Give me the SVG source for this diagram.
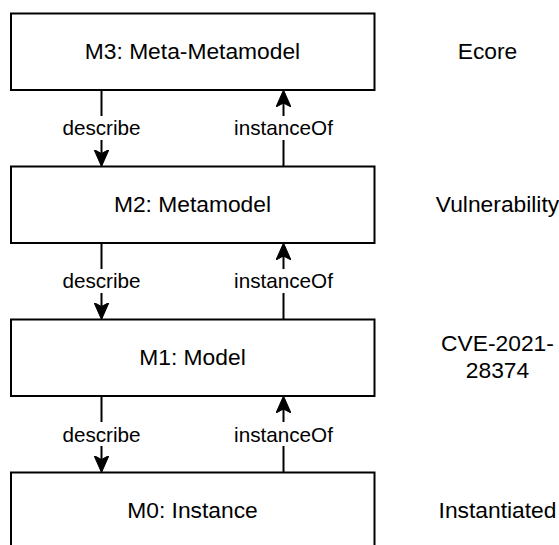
<svg xmlns="http://www.w3.org/2000/svg" width="559" height="545" viewBox="0 0 559 545">
  <style>
    .box { fill: #ffffff; stroke: #000000; stroke-width: 2; }
    .conn { fill: none; stroke: #000000; stroke-width: 2; }
    .lbg { fill: #ffffff; stroke: none; }
    .t { font-family: "Liberation Sans", Arial, sans-serif; font-size: 22.8px; fill: #000000; text-anchor: middle; }
    .lt { font-family: "Liberation Sans", Arial, sans-serif; font-size: 20.7px; fill: #000000; text-anchor: middle; }
  </style>
  <defs>
    <marker id="arrow" markerUnits="userSpaceOnUse" viewBox="0 0 17 15" refX="4" refY="7.5" markerWidth="17" markerHeight="15" orient="auto">
      <path d="M17,7.5 L0,0 L4,7.5 L0,15 Z" fill="#000000" stroke="#000000" stroke-width="1" stroke-linejoin="miter"/>
    </marker>
  </defs>
  <rect x="0" y="0" width="559" height="545" fill="#ffffff"/>

  <g id="m3">
    <rect class="box" x="11" y="13.5" width="363.5" height="76.5"/>
    <text class="t" x="192.5" y="59.3">M3: Meta-Metamodel</text>
  </g>
  <g id="m2">
    <rect class="box" x="11" y="166.5" width="363.5" height="76.5"/>
    <text class="t" x="192.5" y="212.3">M2: Metamodel</text>
  </g>
  <g id="m1">
    <rect class="box" x="11" y="319.5" width="363.5" height="76.5"/>
    <text class="t" x="192.5" y="365.3">M1: Model</text>
  </g>
  <g id="m0">
    <rect class="box" x="11" y="472.5" width="363.5" height="76.5"/>
    <text class="t" x="192.5" y="518.3">M0: Instance</text>
  </g>

  <g id="ecore"><text class="t" x="487.5" y="59.3">Ecore</text></g>
  <g id="vulnerability"><text class="t" x="497.5" y="212.3">Vulnerability</text></g>
  <g id="cve"><text class="t" x="497.5" y="350.5">CVE-2021-</text><text class="t" x="497.5" y="377.8">28374</text></g>
  <g id="instantiated"><text class="t" x="497.5" y="518.3">Instantiated</text></g>

  <g id="connectors">
    <path class="conn" d="M101.5,90 L101.5,153.5" marker-end="url(#arrow)"/>
    <path class="conn" d="M283.5,166.5 L283.5,103" marker-end="url(#arrow)"/>
    <path class="conn" d="M101.5,243 L101.5,306.5" marker-end="url(#arrow)"/>
    <path class="conn" d="M283.5,319.5 L283.5,256" marker-end="url(#arrow)"/>
    <path class="conn" d="M101.5,396 L101.5,459.5" marker-end="url(#arrow)"/>
    <path class="conn" d="M283.5,472.5 L283.5,409" marker-end="url(#arrow)"/>

    <rect class="lbg" x="61" y="116" width="81" height="24"/>
    <text class="lt" x="101.5" y="135.3">describe</text>
    <rect class="lbg" x="233" y="116" width="101" height="24"/>
    <text class="lt" x="283.5" y="135.3">instanceOf</text>

    <rect class="lbg" x="61" y="269" width="81" height="24"/>
    <text class="lt" x="101.5" y="288.3">describe</text>
    <rect class="lbg" x="233" y="269" width="101" height="24"/>
    <text class="lt" x="283.5" y="288.3">instanceOf</text>

    <rect class="lbg" x="61" y="422" width="81" height="24"/>
    <text class="lt" x="101.5" y="441.5">describe</text>
    <rect class="lbg" x="233" y="422" width="101" height="24"/>
    <text class="lt" x="283.5" y="441.5">instanceOf</text>
  </g>
</svg>
